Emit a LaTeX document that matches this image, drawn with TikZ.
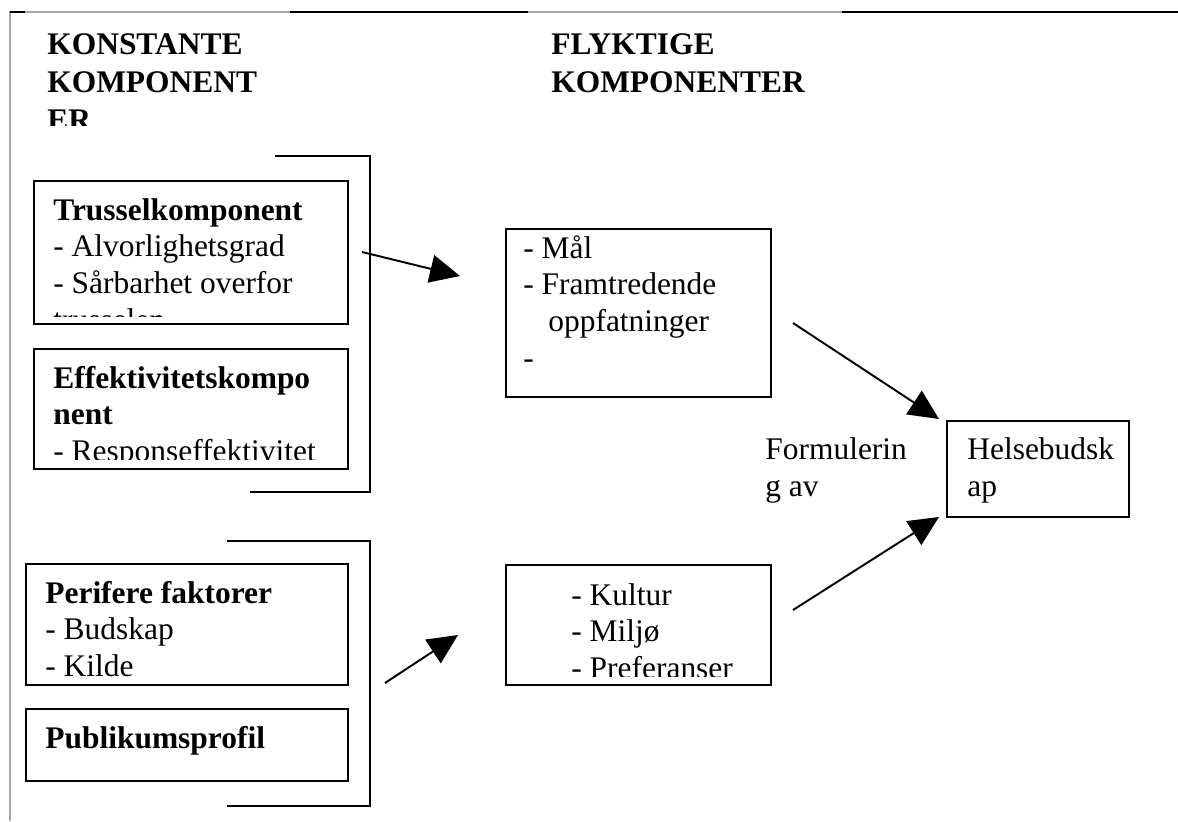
\documentclass[tikz,border=0pt]{standalone}
\usepackage{fontspec}
\setmainfont{Liberation Serif}
\usepackage{tikz}
\usetikzlibrary{arrows.meta}

\begin{document}
\begin{tikzpicture}[
  font=\fontsize{17.9}{20.8}\selectfont, >={Triangle[length=0.6cm, width=0.56cm]},
  box/.style={draw, line width=1.1pt, inner sep=0pt, anchor=north west},
  txt/.style={anchor=base west, align=left, inner sep=0pt},
  head/.style={txt, font=\fontsize{17.9}{21.6}\selectfont\bfseries},
  frame/.style={draw=gray!70, line width=1.1pt},
  frameblk/.style={draw=black, line width=1.3pt},
  bracket/.style={draw, line width=1.1pt},
  arr/.style={->, line width=1.1pt},
]
\useasboundingbox (0,0) rectangle (23.56,-16.42);

\draw[frame] (0.2,-16.42) -- (0.2,-0.24) -- (23.56,-0.24);
\draw[frameblk] (0.2,-0.24) -- (0.5,-0.24);
\draw[frameblk] (5.8,-0.24) -- (10.56,-0.24);
\draw[frameblk] (16.84,-0.24) -- (23.56,-0.24);

% text nodes are placed at the baseline of their last line
\begin{scope}
  \clip (0.3,-0.3) rectangle (9,-2.5);
  \node[head] (konst) at (0.94,-2.6) {KONSTANTE\\KOMPONENT\\ER};
\end{scope}
\node[head] (flyk) at (11.02,-1.84) {FLYKTIGE\\KOMPONENTER};

\draw[bracket] (5.5,-3.12) -- (7.4,-3.12) -- (7.4,-9.84) -- (5.0,-9.84);
\draw[bracket] (4.54,-10.82) -- (7.4,-10.82) -- (7.4,-16.12) -- (4.54,-16.12);

\node[box, minimum width=6.28cm, minimum height=2.86cm] (trussel) at (0.66,-3.6) {};
\begin{scope}
  \clip (trussel.north west) rectangle ([yshift=0.16cm]trussel.south east);
  \node[txt] (trusselT) at (1.06,-6.60) {\textbf{Trusselkomponent}\\- Alvorlighetsgrad\\- Sårbarhet overfor\\trusselen};
\end{scope}

\node[box, minimum width=6.28cm, minimum height=2.4cm] (effekt) at (0.66,-6.96) {};
\begin{scope}
  \clip (effekt.north west) rectangle ([yshift=0.2cm]effekt.south east);
  \node[txt] (effektT) at (1.06,-9.23) {\textbf{Effektivitetskompo}\\\textbf{nent}\\- Responseffektivitet};
\end{scope}

\node[box, minimum width=6.44cm, minimum height=2.42cm] (perif) at (0.5,-11.26) {};
\begin{scope}
  \clip (perif.north west) rectangle ([yshift=0.18cm]perif.south east);
  \node[txt] (perifT) at (0.9,-13.53) {\textbf{Perifere faktorer}\\- Budskap\\- Kilde};
\end{scope}

\node[box, minimum width=6.44cm, minimum height=1.44cm] (publ) at (0.5,-14.16) {};
\node[txt] (publT) at (0.9,-14.96) {\textbf{Publikumsprofil}};

\node[box, minimum width=5.3cm, minimum height=3.36cm] (maal) at (10.1,-4.56) {};
\node[txt] (maalT) at (10.46,-7.36) {- Mål\\- Framtredende\\\hspace*{0.5cm}oppfatninger\\-};

\node[box, minimum width=5.3cm, minimum height=2.4cm] (kultur) at (10.1,-11.28) {};
\begin{scope}
  \clip (kultur.north west) rectangle ([yshift=0.18cm]kultur.south east);
  \node[txt] (kulturT) at (11.42,-13.57) {- Kultur\\- Miljø\\- Preferanser};
\end{scope}

\node[box, minimum width=3.64cm, minimum height=1.92cm] (helse) at (18.92,-8.4) {};
\node[txt] (helseT) at (19.34,-9.93) {Helsebudsk\\ap};
\node[txt] (formul) at (15.3,-9.93) {Formulerin\\g av};

\coordinate (a1s) at (7.24,-5.04);
\coordinate (a1e) at (9.2,-5.52);
\coordinate (a2s) at (7.7,-13.66);
\coordinate (a2e) at (9.16,-12.7);
\coordinate (a3s) at (15.86,-6.46);
\coordinate (a3e) at (18.78,-8.38);
\coordinate (a4s) at (15.86,-12.2);
\coordinate (a4e) at (18.78,-10.34);
\draw[arr] (a1s) -- (a1e);
\draw[arr] (a2s) -- (a2e);
\draw[arr] (a3s) -- (a3e);
\draw[arr] (a4s) -- (a4e);
\end{tikzpicture}
\end{document}
